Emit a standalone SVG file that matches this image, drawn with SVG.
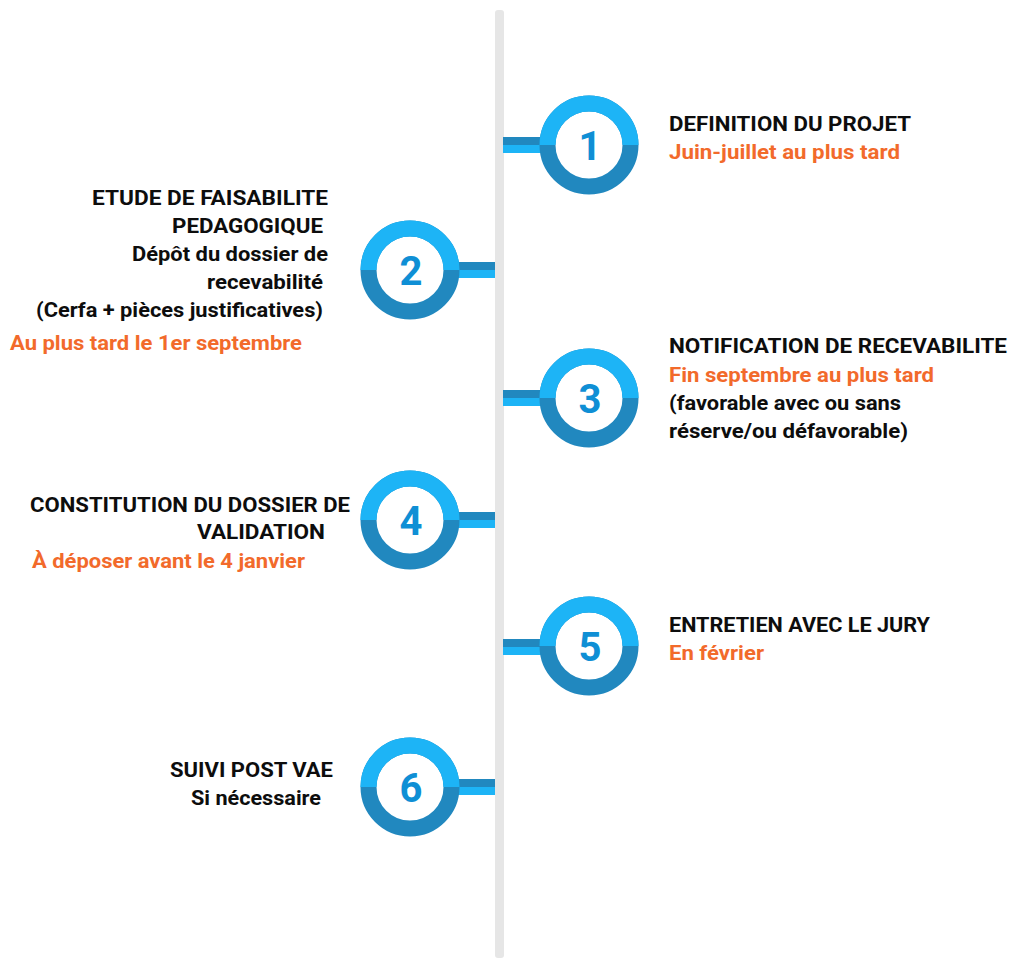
<svg xmlns="http://www.w3.org/2000/svg" xmlns:xlink="http://www.w3.org/1999/xlink" width="1013" height="958" viewBox="0 0 1013 958">
<style>
.t{font-family:Roboto,"Liberation Sans",sans-serif;font-weight:700;font-size:20px;fill:#0d0d0d}
.o{fill:#f26a2b}
.n{font-family:Roboto,"Liberation Sans",sans-serif;font-weight:700;font-size:40px;fill:#0f8fd5;text-anchor:middle}
.dk{fill:#2188bf}
.lt{fill:#1db4f6}
</style>
<defs>
<g id="ring">
<circle cx="0" cy="0" r="41.5" fill="#ffffff" stroke="#2188bf" stroke-width="16"/>
<path d="M-41.5 0 A41.5 41.5 0 0 1 41.5 0" fill="none" stroke="#1db4f6" stroke-width="16"/>
</g>
</defs>
<rect x="495" y="10" width="9" height="948" rx="3" fill="#e6e6e6"/>
<g id="connectors">
<rect class="dk" x="503" y="137" width="40" height="8"/><rect class="lt" x="503" y="145" width="40" height="8"/>
<rect class="dk" x="456" y="262" width="39" height="8"/><rect class="lt" x="456" y="270" width="39" height="8"/>
<rect class="dk" x="503" y="390" width="40" height="8"/><rect class="lt" x="503" y="398" width="40" height="8"/>
<rect class="dk" x="456" y="512" width="39" height="8"/><rect class="lt" x="456" y="520" width="39" height="8"/>
<rect class="dk" x="503" y="639" width="40" height="8"/><rect class="lt" x="503" y="647" width="40" height="8"/>
<rect class="dk" x="456" y="779" width="39" height="8"/><rect class="lt" x="456" y="787" width="39" height="8"/>
</g>
<g id="node1">
<use xlink:href="#ring" x="589" y="145"/>
<text class="n" x="590" y="160">1</text>
<text class="t" x="669" y="131" textLength="242" lengthAdjust="spacingAndGlyphs">DEFINITION DU PROJET</text>
<text class="t o" x="669" y="159" textLength="231" lengthAdjust="spacingAndGlyphs">Juin-juillet au plus tard</text>
</g>
<g id="node2">
<use xlink:href="#ring" x="410" y="270"/>
<text class="n" x="411" y="285">2</text>
<text class="t" x="92" y="205" textLength="236" lengthAdjust="spacingAndGlyphs">ETUDE DE FAISABILITE</text>
<text class="t" x="172" y="233" textLength="151" lengthAdjust="spacingAndGlyphs">PEDAGOGIQUE</text>
<text class="t" x="132" y="261" textLength="196" lengthAdjust="spacingAndGlyphs">Dépôt du dossier de</text>
<text class="t" x="207" y="289" textLength="116" lengthAdjust="spacingAndGlyphs">recevabilité</text>
<text class="t" x="36" y="317" textLength="287" lengthAdjust="spacingAndGlyphs">(Cerfa + pièces justificatives)</text>
<text class="t o" x="10" y="350" textLength="292" lengthAdjust="spacingAndGlyphs">Au plus tard le 1er septembre</text>
</g>
<g id="node3">
<use xlink:href="#ring" x="589" y="398"/>
<text class="n" x="590" y="413">3</text>
<text class="t" x="669" y="353" textLength="338" lengthAdjust="spacingAndGlyphs">NOTIFICATION DE RECEVABILITE</text>
<text class="t o" x="669" y="382" textLength="265" lengthAdjust="spacingAndGlyphs">Fin septembre au plus tard</text>
<text class="t" x="669" y="410" textLength="232" lengthAdjust="spacingAndGlyphs">(favorable avec ou sans</text>
<text class="t" x="669" y="438" textLength="239" lengthAdjust="spacingAndGlyphs">réserve/ou défavorable)</text>
</g>
<g id="node4">
<use xlink:href="#ring" x="410" y="520"/>
<text class="n" x="411" y="535">4</text>
<text class="t" x="30" y="512" textLength="320" lengthAdjust="spacingAndGlyphs">CONSTITUTION DU DOSSIER DE</text>
<text class="t" x="197" y="539" textLength="128" lengthAdjust="spacingAndGlyphs">VALIDATION</text>
<text class="t o" x="32" y="568" textLength="273" lengthAdjust="spacingAndGlyphs">À déposer avant le 4 janvier</text>
</g>
<g id="node5">
<use xlink:href="#ring" x="589" y="646"/>
<text class="n" x="590" y="661">5</text>
<text class="t" x="669" y="632" textLength="261" lengthAdjust="spacingAndGlyphs">ENTRETIEN AVEC LE JURY</text>
<text class="t o" x="669" y="660" textLength="95" lengthAdjust="spacingAndGlyphs">En février</text>
</g>
<g id="node6">
<use xlink:href="#ring" x="410" y="787"/>
<text class="n" x="411" y="802">6</text>
<text class="t" x="170" y="777" textLength="163" lengthAdjust="spacingAndGlyphs">SUIVI POST VAE</text>
<text class="t" x="191" y="805" textLength="130" lengthAdjust="spacingAndGlyphs">Si nécessaire</text>
</g>
</svg>
